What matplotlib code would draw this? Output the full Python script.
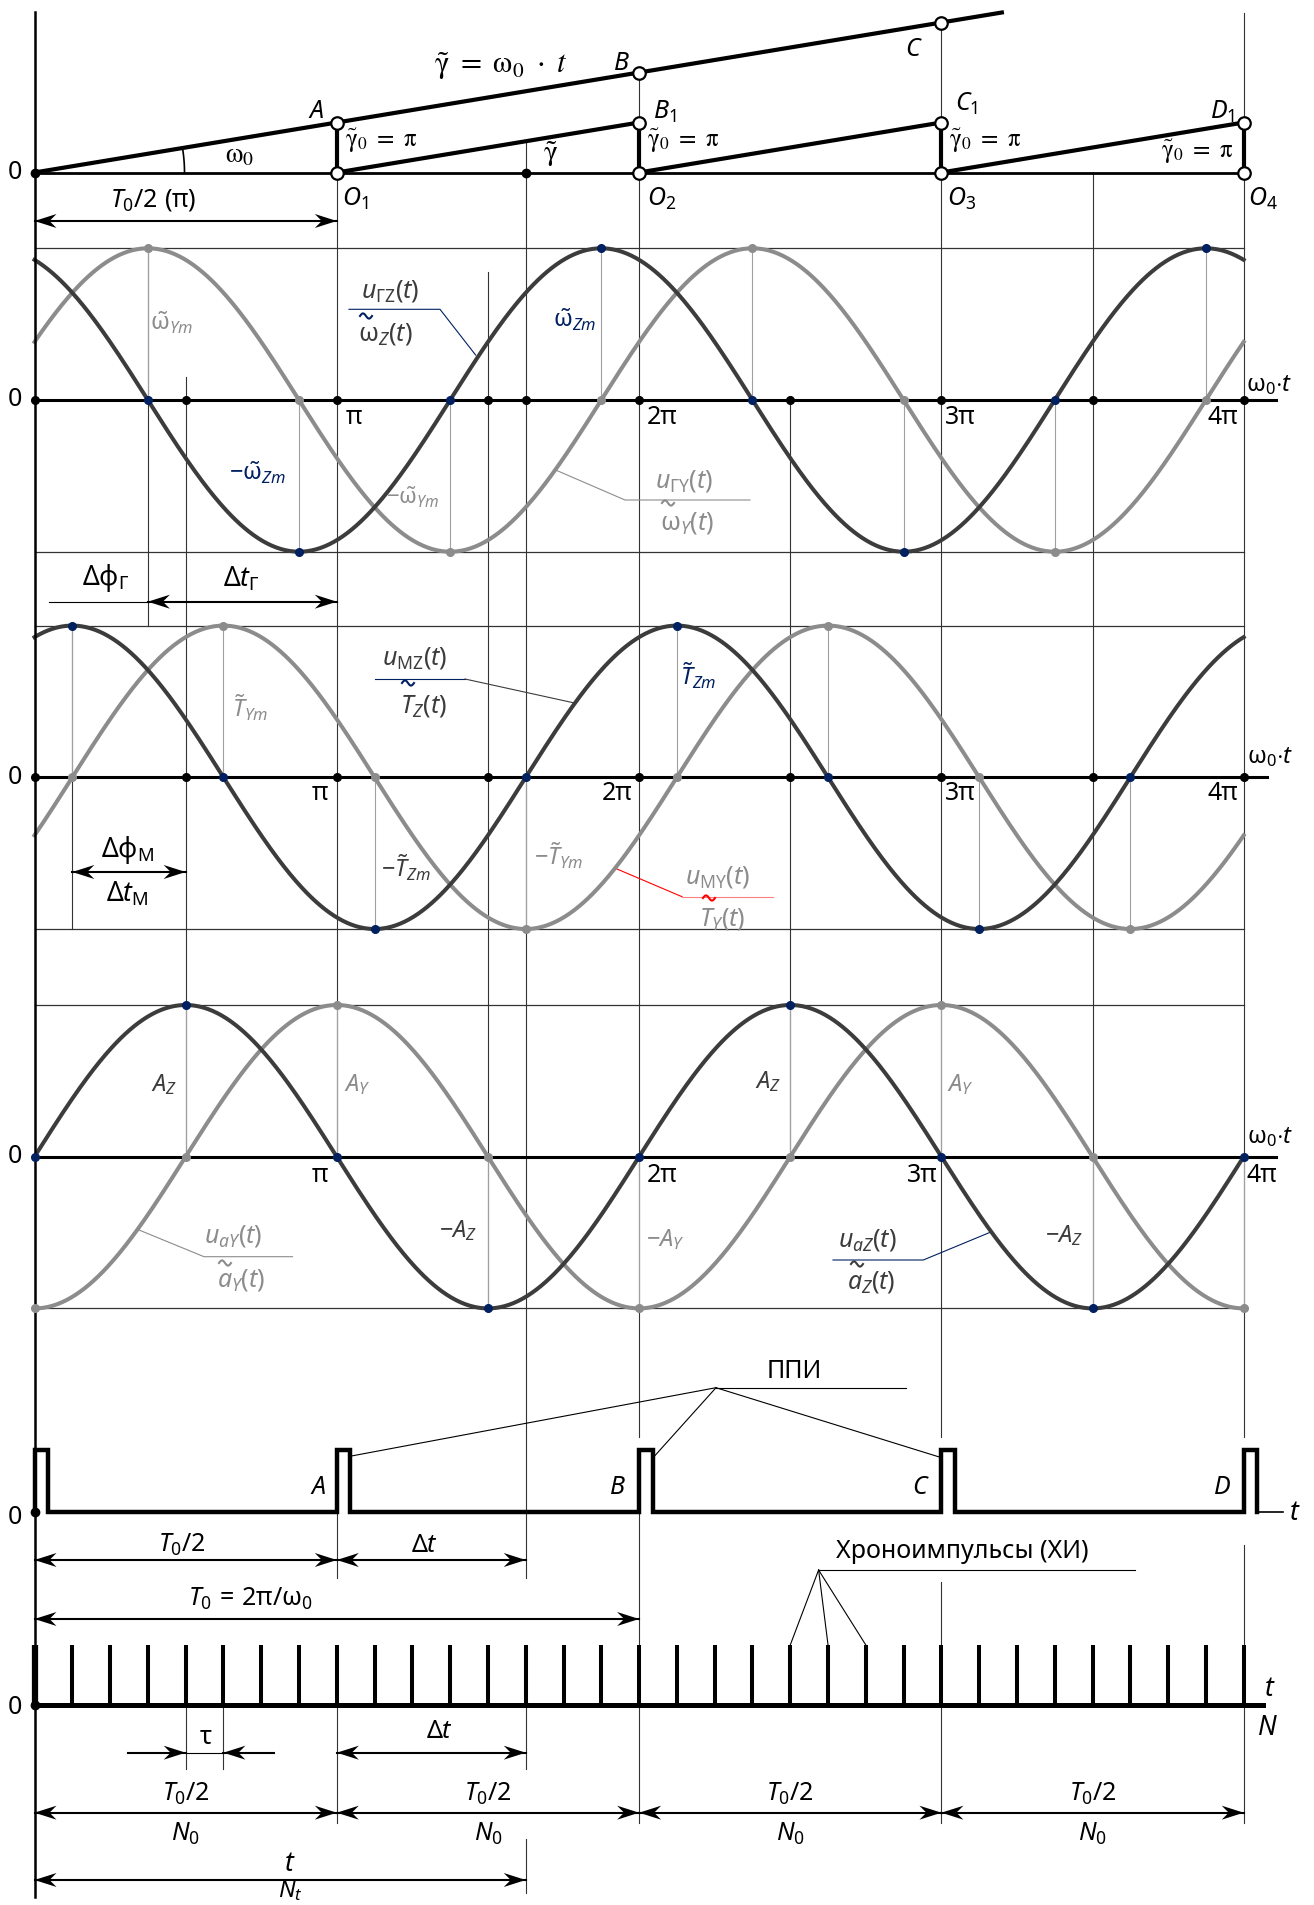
import numpy as np
import matplotlib
matplotlib.use('Agg')
import matplotlib.pyplot as plt
from matplotlib.patches import Polygon

plt.rcParams['font.family'] = ['Noto Sans', 'DejaVu Sans']
plt.rcParams['mathtext.fontset'] = 'custom'
plt.rcParams['mathtext.rm'] = 'Noto Sans'
plt.rcParams['mathtext.it'] = 'Noto Sans:italic'
plt.rcParams['mathtext.bf'] = 'Noto Sans:bold'

# --- data: phase w0*t in units of pi ---
gamma_ray = [0, 1, 2, 3, 3.2]        # gamma = w0*t (A, B, C on it)
saw_start = [1, 2, 3]                # gamma~ restarts at O1, O2, O3
half_periods = [1, 2, 3, 4]          # O1..O4
gamma0 = 1.0                         # gamma~0 = pi
t_mark = 1.625                       # current moment t
ppi_pulses = [0, 1, 2, 3, 4]         # ППИ at A, B, C, D
chrono_per_pi = 8                    # chrono pulses per pi
n_chrono = 32

# phase of maximum for every sinusoid
peak_gyro_z, peak_gyro_y = 1.875, 0.375
peak_mom_z, peak_mom_y = 0.125, 0.625
peak_acc_z, peak_acc_y = 0.5, 1.0
half_marks = [0, 0.5, 1, 1.5, 2, 2.5, 3, 3.5, 4]

W, H = 1314, 1905
X0, DX = 34.5, 302.3
DARK, GREY, NAVY = '#3c3c3c', '#8c8c8c', '#002060'
THIN = '#333333'


def px(p):
    return (p - X0) / DX


fig = plt.figure(figsize=(W / 100, H / 100), dpi=100)
ax = fig.add_axes([0, 0, 1, 1])
ax.set_xlim(-X0 / DX, (W - X0) / DX)
ax.set_ylim(H, 0)
ax.axis('off')


def txt(x, y, s, size=17, color='k', ha='center', va='center', serif=False):
    ax.text(x, y, s, fontsize=size, color=color, ha=ha, va=va,
            math_fontfamily='stix' if serif else 'custom')


def line(pts, color=THIN, lw=0.8, z=2):
    ax.plot([px(p[0]) for p in pts], [p[1] for p in pts], color=color, lw=lw, zorder=z)


def wave(xc, yc, color):
    # tilde sign drawn on the leader line of two-line labels
    s = np.linspace(0, 2 * np.pi, 25)
    ax.plot(px(xc) + (s / (2 * np.pi) - 0.5) * 12 / DX, yc - 2.6 * np.sin(s),
            color=color, lw=1.5, zorder=6)


def head(x, y, d):
    L, w, n = 22, 7, 7
    pts = [(x, y), (x - d * L / DX, y - w), (x - d * (L - n) / DX, y), (x - d * L / DX, y + w)]
    ax.add_patch(Polygon(pts, closed=True, color='k', lw=0, zorder=5))


def dim(x1, x2, y, lw=1.5):
    ax.plot([x1, x2], [y, y], color='k', lw=lw, zorder=4)
    head(x1, y, -1)
    head(x2, y, 1)


# left axis
ax.plot([0, 0], [12, 1897], color='k', lw=1.8, zorder=6)

# ---------------- top: gamma diagram ----------------
BASE0, GPX = 172.5, 50
ax.plot([0, 4], [BASE0, BASE0], color='k', lw=2, zorder=3)
gy = [BASE0 - GPX * g for g in gamma_ray]
ax.plot(gamma_ray, gy, color='k', lw=3, zorder=3)
for s in saw_start:
    ax.plot([s, s + 1], [BASE0, BASE0 - GPX * gamma0], color='k', lw=3, zorder=3)
for h in half_periods:
    ax.plot([h, h], [BASE0, BASE0 - GPX * gamma0], color='k', lw=3, zorder=3)
circ = dict(marker='o', ms=9, mfc='white', mec='k', mew=1.6, ls='none', zorder=7)
ax.plot(gamma_ray[1:4], gy[1:4], **circ)
ax.plot(half_periods, [BASE0] * 4, **circ)
ax.plot(half_periods[1:], [BASE0 - GPX * gamma0] * 3, **circ)
ax.plot([0, t_mark], [BASE0, BASE0], 'o', color='k', ms=6, zorder=7)
# angle arc w0
r = 150
a = np.linspace(0, np.arctan(GPX / DX), 30)
ax.plot(r * np.cos(a) / DX, BASE0 - r * np.sin(a), color='k', lw=1.2)

txt(px(14.7), BASE0, '0', 18)
txt(px(501), 66, r'$\tilde{\mathrm{\gamma}}\ =\ \mathrm{\omega}_0\ \cdot\ t$', 22, serif=True)
txt(px(240), 155, r'$\mathrm{\omega}_0$', 20, serif=True)
for lab, x, y in [('A', 316, 112), ('B', 621, 63), ('C', 914, 50),
                  ('B_1', 665, 112), ('C_1', 966, 104), ('D_1', 1222, 112),
                  ('O_1', 355, 199), ('O_2', 662, 199), ('O_3', 961, 199), ('O_4', 1263, 199)]:
    txt(px(x), y, '$' + lab + '$', 18)
g0 = r'$\tilde{\mathrm{\gamma}}_0\ =\ \mathrm{\pi}$'
for h in half_periods[:3]:
    txt(h + 8 / DX, 141, g0, 18, ha='left', serif=True)
txt(4 - 10 / DX, 152, g0, 18, ha='right', serif=True)
txt(px(551), 154, r'$\tilde{\mathrm{\gamma}}$', 21, serif=True)
txt(px(153), 200, r'$T_0/2\ (\mathrm{\pi})$', 18)
dim(0, 1, 221)

# ---------------- sinusoid panels ----------------
AMP = 151.7
wt = np.linspace(0, 4, 801)


def keypts(p):
    k = np.arange(-6, 7)
    ok = lambda v: [x for x in v if -1e-9 <= x <= 4 + 1e-9]
    return ok(p + 2 * k), ok(p + 1 + 2 * k), ok(p + 0.5 + k)


panels = [
    (400.0, peak_gyro_z, peak_gyro_y, half_marks + [t_mark], 4.107),
    (777.3, peak_mom_z, peak_mom_y, half_marks, 4.077),
    (1156.7, peak_acc_z, peak_acc_y, [], 4.107),
]

guides = [
    (1, 172.5, 1156.7), (1, 1511.7, 1578), (1, 1705, 1823),
    (2, 72.5, 1437), (2, 1511.7, 1823),
    (3, 22.5, 1437), (3, 1582, 1823),
    (4, 12.7, 1437), (4, 1545, 1823),
    (0.5, 376.7, 1156.7), (1.5, 271.7, 1307.3),
    (t_mark, BASE0 - GPX * (t_mark - 1), 1578), (t_mark, 1705, 1769), (t_mark, 1839, 1893),
    (2.5, 400, 1156.7), (3.5, 172.5, 1307.3),
    (0.375, 247.3, 626), (0.125, 626, 929.3),
    (0.5, 1705, 1769), (0.625, 1705, 1769),
]
for x, y1, y2 in guides:
    ax.plot([x, x], [y1, y2], color=THIN, lw=0.8, zorder=1)

for zero, pz, pyy, blacks, xend in panels:
    ax.plot([0, 4], [zero - AMP, zero - AMP], color=THIN, lw=0.9, zorder=1)
    ax.plot([0, 4], [zero + AMP, zero + AMP], color=THIN, lw=0.9, zorder=1)
    ax.plot([0, xend], [zero, zero], color='k', lw=2.2, zorder=3)
    for p, col in [(pyy, GREY), (pz, DARK)]:
        mx, mn, zr = keypts(p)
        for x in mx:
            ax.plot([x, x], [zero - AMP, zero], color='#a0a0a0', lw=0.8, zorder=1)
        for x in mn:
            ax.plot([x, x], [zero, zero + AMP], color='#a0a0a0', lw=0.8, zorder=1)
        ax.plot(wt, zero - AMP * np.cos(np.pi * (wt - p)), color=col, lw=2.9, zorder=4)
    ax.plot(blacks, [zero] * len(blacks), 'o', color='k', ms=5.5, zorder=6)
    for p, dcol in [(pyy, GREY), (pz, NAVY)]:
        mx, mn, zr = keypts(p)
        ax.plot(mx, [zero - AMP] * len(mx), 'o', color=dcol, ms=5.5, zorder=6)
        ax.plot(mn, [zero + AMP] * len(mn), 'o', color=dcol, ms=5.5, zorder=6)
        ax.plot(zr, [zero] * len(zr), 'o', color=dcol, ms=5.5, zorder=6)
    txt(px(14.7), zero, '0', 18)

wlab = r'$\mathrm{\omega}_0{\cdot}t$'
# gyro panel labels
for s, x in [('π', 353.4), ('2π', 662), ('3π', 960.6), ('4π', 1223)]:
    txt(px(x), 417, s, 18)
txt(px(1246), 385, wlab, 17, ha='left')
txt(px(172), 323, r'$\tilde{\mathrm{\omega}}_{Ym}$', 17, GREY)
txt(px(575), 320, r'$\tilde{\mathrm{\omega}}_{Zm}$', 17, NAVY)
txt(px(257), 473, r'$-\tilde{\mathrm{\omega}}_{Zm}$', 17, NAVY)
txt(px(413), 497, r'$-\tilde{\mathrm{\omega}}_{Ym}$', 16, GREY)
txt(px(390), 291, r'$u_{\mathrm{ГZ}}(t)$', 18, DARK)
txt(px(385), 334, r'$\mathrm{\omega}_Z(t)$', 18, DARK)
wave(366, 316, NAVY)
line([(349, 309.3), (440, 309.3), (475.6, 355)], NAVY)
txt(px(684), 481, r'$u_{\mathrm{ГY}}(t)$', 18, GREY)
txt(px(687.5), 523, r'$\mathrm{\omega}_Y(t)$', 18, GREY)
wave(668, 503, GREY)
line([(555.6, 470), (625, 500), (750, 500)], GREY)

# phase shift of gyro channel
txt(px(106), 578, r'$\mathrm{Δφ}_{\mathrm{Г}}$', 19)
txt(px(241), 579, r'$\mathrm{Δ}t_{\mathrm{Г}}$', 19)
line([(49, 601.7), (148, 601.7)], 'k', 0.8)
dim(0.375, 1, 601.7)

# moment panel labels
for s, x in [('π', 320), ('2π', 617), ('3π', 960), ('4π', 1223)]:
    txt(px(x), 793, s, 18)
txt(px(1246.6), 757, wlab, 17, ha='left')
txt(px(250), 708, r'$\tilde{T}_{Ym}$', 17, GREY)
txt(px(415), 658, r'$u_{\mathrm{МZ}}(t)$', 18, DARK)
txt(px(423), 706, r'$T_Z(t)$', 18, DARK)
wave(408, 683, NAVY)
line([(374.6, 679), (465, 679)], NAVY)
line([(465, 679), (574.5, 703)], DARK)
txt(px(406), 868, r'$-\tilde{T}_{Zm}$', 17, DARK)
txt(px(559), 856, r'$-\tilde{T}_{Ym}$', 17, GREY)
txt(px(698), 676, r'$\tilde{T}_{Zm}$', 17, NAVY)
txt(px(718), 877, r'$u_{\mathrm{МY}}(t)$', 18, GREY)
txt(px(722), 919, r'$T_Y(t)$', 18, GREY)
wave(709, 898, 'red')
line([(615.3, 868.3), (682, 896.7)], 'red')
line([(682, 896.7), (773, 896.7)], '#ff8080')
txt(px(128), 850, r'$\mathrm{Δφ}_{\mathrm{М}}$', 19)
dim(0.125, 0.5, 872)
txt(px(127), 894, r'$\mathrm{Δ}t_{\mathrm{М}}$', 19)

# acceleration panel labels
for s, x in [('π', 320), ('2π', 661.5), ('3π', 922), ('4π', 1262)]:
    txt(px(x), 1175, s, 18)
txt(px(1246.6), 1137, wlab, 17, ha='left')
for s, x, y, c in [('A_Z', 164, 1085, DARK), ('A_Y', 357, 1085, GREY),
                   ('A_Z', 768, 1082, DARK), ('A_Y', 960, 1085, GREY),
                   ('-A_Z', 458, 1231, DARK), ('-A_Y', 665, 1240, GREY),
                   ('-A_Z', 1064, 1236, DARK)]:
    txt(px(x), y, '$' + s + '$', 17, c)
txt(px(233.5), 1236, r'$u_{aY}(t)$', 18, GREY)
txt(px(241), 1280, r'$a_Y(t)$', 18, GREY)
wave(225, 1263, GREY)
line([(139, 1230), (204, 1256.7), (292.5, 1256.7)], GREY)
txt(px(867), 1240, r'$u_{aZ}(t)$', 18, DARK)
txt(px(871), 1282, r'$a_Z(t)$', 18, DARK)
wave(857, 1264, DARK)
line([(991.6, 1231.7), (923.3, 1260), (833, 1260)], NAVY)

# ---------------- ППИ pulses ----------------
PB, PT, PW = 1511.7, 1450, 0.045
xs, ys = [], []
for p in ppi_pulses:
    xs += [p, p, p + PW, p + PW]
    ys += [PB, PT, PT, PB]
ax.plot(xs, ys, color='k', lw=3.2, solid_joinstyle='miter', zorder=5)
ax.plot([4 + PW, px(1283)], [PB, PB], color='k', lw=1.2, zorder=5)
ax.plot([0], [PB], 'o', color='k', ms=6, zorder=7)
for s, x in [('A', 318), ('B', 617), ('C', 921), ('D', 1222)]:
    txt(px(x), 1487, '$' + s + '$', 18)
txt(px(14.7), 1517, '0', 18)
txt(px(1295), 1513, '$t$', 19)
txt(px(794), 1372, 'ППИ', 18)
line([(716, 1387.7), (906, 1387.7)], 'k')
for xe, ye in [(351.4, 1456), (653.7, 1457), (939.3, 1457)]:
    line([(716, 1387.7), (xe, ye)], 'k')
txt(px(182), 1545, r'$T_0/2$', 18)
dim(0, 1, 1560)
txt(px(425), 1545, r'$\mathrm{Δ}t$', 18)
dim(1, t_mark, 1560)
txt(px(250), 1599, r'$T_0\,=\,2\mathrm{\pi}/\mathrm{\omega}_0$', 18)
dim(0, 2, 1619)

# ---------------- chrono pulses ----------------
CB, CT = 1705, 1645
ticks = np.arange(n_chrono + 1) / chrono_per_pi
ax.plot([0, px(1262.6)], [CB, CB], color='k', lw=3.6, zorder=5)
ax.vlines(ticks[1:], CT, CB, color='k', lw=2.9, zorder=5)
ax.vlines(ticks[:1], CT, CB, color='k', lw=4.5, zorder=5)
ax.plot([0], [CB], 'o', color='k', ms=6, zorder=7)
txt(px(14.7), 1707, '0', 18)
txt(px(1270), 1689, '$t$', 19)
txt(px(1267), 1728, '$N$', 19)
txt(px(962.6), 1552, 'Хроноимпульсы (ХИ)', 18)
line([(818.6, 1570), (1135, 1570)], 'k')
for k in (20, 21, 22):
    ax.plot([px(818.6), ticks[k]], [1570, CT], color='k', lw=0.8)
# tau
ax.plot([px(128.4), 0.5], [1752.7, 1752.7], color='k', lw=1.5)
head(0.5, 1752.7, 1)
ax.plot([0.625, px(273.6)], [1752.7, 1752.7], color='k', lw=1.5)
head(0.625, 1752.7, -1)
ax.plot([0.5, 0.625], [1752.7, 1752.7], color='k', lw=0.8)
txt(px(206), 1738, 'τ', 18)
txt(px(440), 1731, r'$\mathrm{Δ}t$', 18)
dim(1, t_mark, 1752.7)
for h in half_periods:
    dim(h - 1, h, 1812.7)
    txt(h - 0.5, 1794, r'$T_0/2$', 18)
    txt(h - 0.5, 1834, r'$N_0$', 18)
dim(0, t_mark, 1880)
txt(px(290), 1864, '$t$', 19)
txt(px(290), 1891, '$N_t$', 17)

fig.savefig('out.png', dpi=100)
